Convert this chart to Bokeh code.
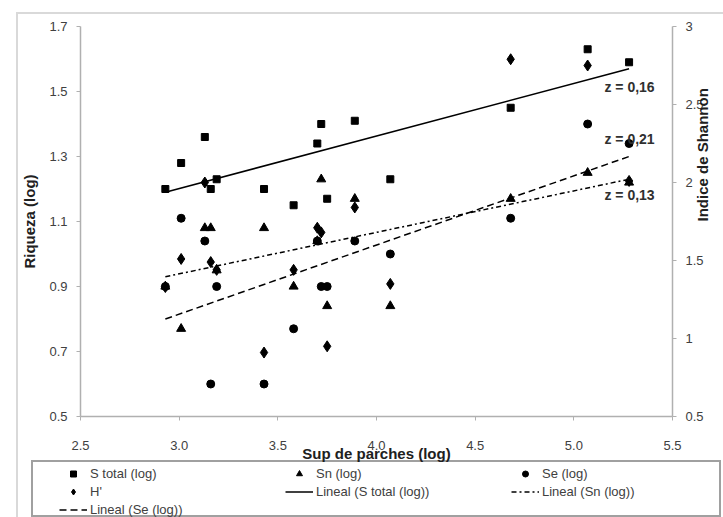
import math
from bokeh.plotting import figure
from bokeh.models import (Range1d, LinearAxis, FixedTicker, Legend, LegendItem,
                          Label, NumeralTickFormatter)
from bokeh.embed import file_html
from bokeh.resources import INLINE

# ---- data ----
sup_parches = [2.93, 3.01, 3.13, 3.16, 3.19, 3.43, 3.58, 3.70, 3.72, 3.75, 3.89, 4.07, 4.68, 5.07, 5.28]
s_total = [1.20, 1.28, 1.36, 1.20, 1.23, 1.20, 1.15, 1.34, 1.40, 1.17, 1.41, 1.23, 1.45, 1.63, 1.59]
sn = [0.90, 0.77, 1.08, 1.08, 0.95, 1.08, 0.90, 1.04, 1.23, 0.84, 1.17, 0.84, 1.17, 1.25, 1.22]
se = [0.90, 1.11, 1.04, 0.60, 0.90, 0.60, 0.77, 1.04, 0.90, 0.90, 1.04, 1.00, 1.11, 1.40, 1.34]
h_shannon = [1.33, 1.51, 2.00, 1.49, 1.44, 0.91, 1.44, 1.71, 1.68, 0.95, 1.84, 1.35, 2.79, 2.75, 2.01]

fit_x = [2.93, 5.28]
fit_s_total = [1.19, 1.57]
fit_se = [0.80, 1.30]
fit_sn = [0.93, 1.23]
z_labels = ["z = 0,16", "z = 0,21", "z = 0,13"]

x_ticks = [2.5, 3.0, 3.5, 4.0, 4.5, 5.0, 5.5]
y_left_ticks = [0.5, 0.7, 0.9, 1.1, 1.3, 1.5, 1.7]
y_right_ticks = [0.5, 1.0, 1.5, 2.0, 2.5, 3.0]

series_labels = ["S total (log)", "Sn (log)", "Se (log)", "H'",
                 "Lineal (S total (log))", "Lineal (Sn (log))", "Lineal (Se (log))"]

FONT = "Liberation Sans"
TXT = "#404040"
AX = "#b0b0b0"
OUT = "#d9d9d9"
LEG = "#a0a0a0"

def bg_lines(specs):
    # specs: list of (color, size, position)
    return {
        "background-color": "white",
        "background-image": ", ".join(f"linear-gradient({c},{c})" for c, _, _ in specs),
        "background-repeat": "no-repeat",
        "background-size": ", ".join(s for _, s, _ in specs),
        "background-position": ", ".join(pos for _, _, pos in specs),
    }

p = figure(width=723, height=465, output_backend="svg", toolbar_location=None,
           x_range=Range1d(2.5, 5.5), y_range=Range1d(0.5, 1.7),
           min_border_left=80, min_border_right=51, min_border_top=26, min_border_bottom=49)
p.extra_y_ranges = {"h": Range1d(0.5, 3.0)}
p.grid.visible = False
p.outline_line_color = None
p.background_fill_color = "white"
p.border_fill_color = None
p.styles = bg_lines([
    (OUT, "2px 600px", "16px 12px"),
    (OUT, "800px 2px", "16px 12px"),
    (LEG, "690px 2px", "31px 460px"),
    (LEG, "2px 6px", "31px 460px"),
    (LEG, "2px 6px", "719px 460px"),
])

def style_axis(ax):
    ax.axis_line_color = AX
    ax.axis_line_width = 1.5
    ax.major_tick_line_color = AX
    ax.major_tick_in = 0
    ax.major_tick_out = 4
    ax.minor_tick_line_color = None
    ax.major_label_text_font = FONT
    ax.major_label_text_font_size = "13px"
    ax.major_label_text_color = TXT
    ax.axis_label_text_font = FONT
    ax.axis_label_text_font_size = "15px"
    ax.axis_label_text_font_style = "bold"
    ax.axis_label_text_color = "#202020"

xa = p.xaxis[0]
style_axis(xa)
xa.ticker = FixedTicker(ticks=x_ticks)
xa.formatter = NumeralTickFormatter(format="0.0")
xa.axis_label = "Sup de parches (log)"
xa.major_label_standoff = 20
xa.axis_label_standoff = -8

ya = p.yaxis[0]
style_axis(ya)
ya.ticker = FixedTicker(ticks=y_left_ticks)
ya.formatter = NumeralTickFormatter(format="0.0")
ya.axis_label = "Riqueza (log)"
ya.major_label_standoff = 9
ya.axis_label_standoff = 8

ra = LinearAxis(y_range_name="h")
style_axis(ra)
ra.ticker = FixedTicker(ticks=y_right_ticks)
ra.formatter = NumeralTickFormatter(format="0.[0]")
ra.axis_label = "Indice de Shannon"
ra.major_label_standoff = 9
ra.axis_label_standoff = -4
ra.axis_label_orientation = math.pi / 2
ra.axis_label_text_align = "center"
p.add_layout(ra, "right")

# trend lines
p.line(fit_x, fit_s_total, line_color="black", line_width=1.5)
p.line(fit_x, fit_sn, line_color="black", line_width=1.5, line_dash="5 3 2 3")
p.line(fit_x, fit_se, line_color="black", line_width=1.5, line_dash="7 4")

# points
p.scatter(sup_parches, s_total, marker="square", size=7, color="black")
p.scatter(sup_parches, sn, marker="triangle", size=9, color="black")
p.scatter(sup_parches, se, marker="circle", size=8, color="black")
p.scatter(sup_parches, h_shannon, marker="diamond", size=11, color="black", y_range_name="h")

for txt, yy in zip(z_labels, [1.513, 1.354, 1.183]):
    p.add_layout(Label(x=5.155, y=yy, text=txt, text_font=FONT, text_font_size="14px",
                       text_font_style="bold", text_color="#303030", text_baseline="middle"))

# ---- legend strip: same series, drawn outside its (unrelated) view range ----
pl = figure(width=723, height=52, output_backend="svg", toolbar_location=None,
            x_axis_location=None, y_axis_location=None,
            x_range=Range1d(0, 1), y_range=Range1d(0, 0.1),
            min_border_left=0, min_border_right=0, min_border_top=0, min_border_bottom=0)
pl.grid.visible = False
pl.outline_line_color = None
pl.background_fill_color = None
pl.border_fill_color = None
pl.styles = bg_lines([
    (OUT, "2px 60px", "16px 0px"),
    (LEG, "2px 51px", "31px 0px"),
    (LEG, "2px 51px", "719px 0px"),
    (LEG, "690px 2px", "31px 50px"),
])

sw = [
    pl.scatter(sup_parches, s_total, marker="square", size=7, color="black"),
    pl.scatter(sup_parches, sn, marker="triangle", size=9, color="black"),
    pl.scatter(sup_parches, se, marker="circle", size=8, color="black"),
    pl.scatter(sup_parches, h_shannon, marker="diamond", size=10, color="black"),
    pl.line(fit_x, fit_s_total, line_color="black", line_width=1.5),
    pl.line(fit_x, fit_sn, line_color="black", line_width=1.5, line_dash="5 3 2 3"),
    pl.line(fit_x, fit_se, line_color="black", line_width=1.5, line_dash="7 4"),
]
legend = Legend(items=[LegendItem(label=lab, renderers=[r]) for lab, r in zip(series_labels, sw)],
                orientation="horizontal", ncols=3, location=(59, 0))
legend.border_line_color = None
legend.background_fill_alpha = 0
legend.padding = 0
legend.spacing = 3
legend.margin = 0
legend.label_height = 15
legend.glyph_height = 15
legend.glyph_width = 28
legend.label_width = 192
legend.label_standoff = 3
legend.label_text_font = FONT
legend.label_text_font_size = "13px"
legend.label_text_color = TXT
pl.add_layout(legend, "center")

open("out.html", "w").write(file_html([p, pl], INLINE))
